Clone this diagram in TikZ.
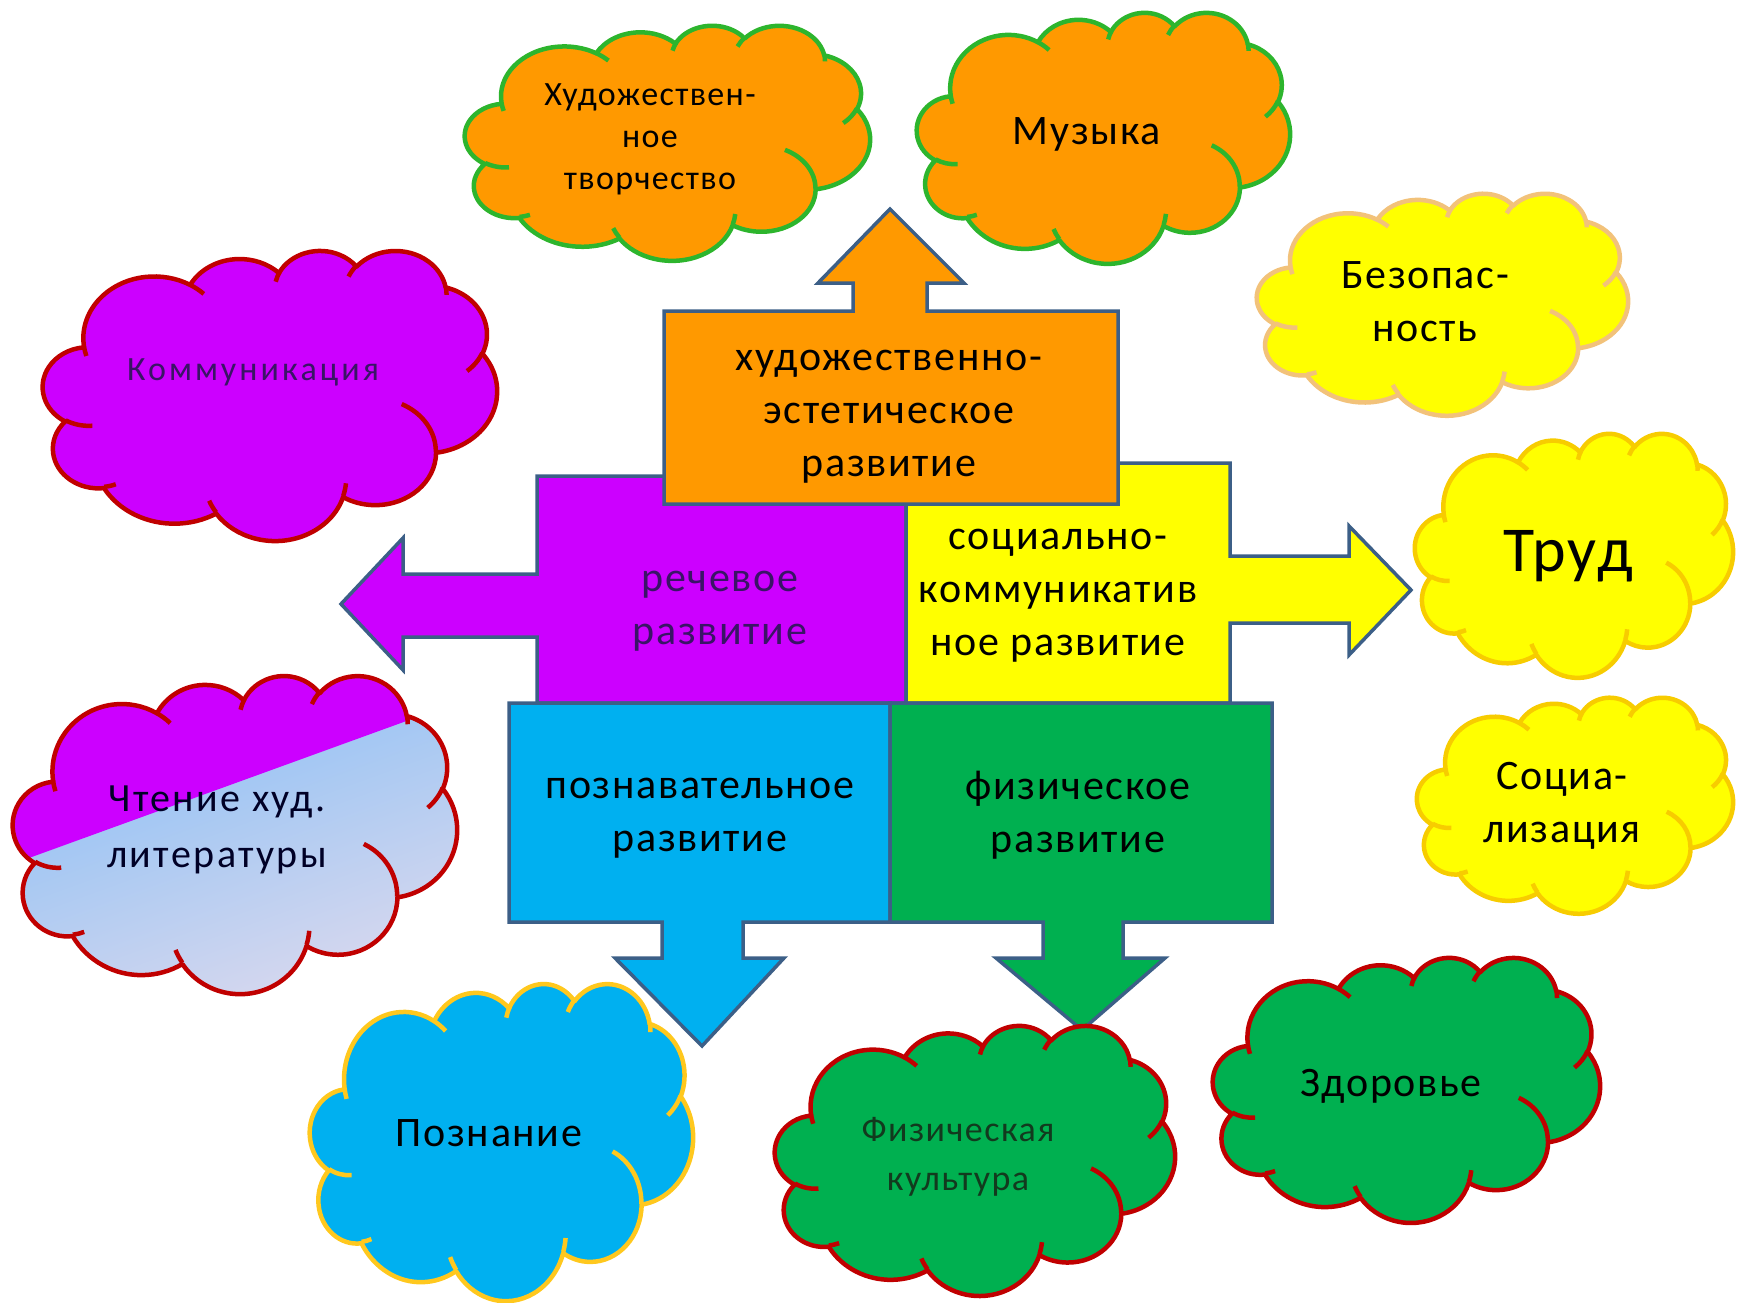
\documentclass[tikz,border=0pt]{standalone}
\usepackage{fontspec}
\setmainfont{Carlito}
\newfontfamily\fsA{Carlito}[LetterSpace=4]
\newfontfamily\fsB{Carlito}[LetterSpace=6]
\newfontfamily\fsC{Carlito}[LetterSpace=9]
\usetikzlibrary{calc}
\definecolor{orng}{HTML}{FF9900}
\definecolor{purp}{HTML}{CC00FF}
\definecolor{yel}{HTML}{FFFF00}
\definecolor{blu}{HTML}{00B0F0}
\definecolor{grn}{HTML}{00B050}
\definecolor{edgec}{HTML}{3C5F87}
\definecolor{cgreen}{HTML}{2DB52D}
\definecolor{cred}{HTML}{C00000}
\definecolor{ctan}{HTML}{F2C27A}
\definecolor{cgold}{HTML}{F7CC00}
\definecolor{cyo}{HTML}{FFC81E}
\definecolor{ltblue}{HTML}{86BEF6}
\definecolor{lav}{HTML}{D8D8EE}
\definecolor{dpurp}{HTML}{3A1466}
\definecolor{dgreen}{HTML}{123A1E}
% one arc of an OOXML-style cloud: x radius, y radius, start angle, sweep (visual angles)
\newcommand\ooarc[4]{arc[x radius=#1, y radius=#2, start angle={atan2(#1*sin(#3),#2*cos(#3))}, delta angle={mod(atan2(#1*sin(#3+#4),#2*cos(#3+#4))-atan2(#1*sin(#3),#2*cos(#3))+720,360)}]}
\newcommand\oocloud{(39.00,143.70)
 \ooarc{67.53}{91.90}{-190.487}{123.780}
 \ooarc{53.33}{72.67}{-144.102}{89.945}
 \ooarc{43.65}{59.45}{-145.808}{99.723}
 \ooarc{48.57}{65.95}{-130.986}{117.242}
 \ooarc{53.33}{72.73}{-78.709}{109.027}
 \ooarc{67.75}{92.20}{-46.267}{130.269}
 \ooarc{57.85}{78.67}{0.625}{114.033}
 \ooarc{67.52}{92.15}{22.452}{115.173}
 \ooarc{77.20}{105.43}{66.243}{75.711}
 \ooarc{43.60}{59.18}{-274.942}{146.736}
 \ooarc{43.45}{59.45}{-246.829}{152.519}
 -- cycle}
\newcommand\oocloudinner{(46.93,261.77) \ooarc{43.45}{59.45}{86.742}{26.430}
 (69.28,348.99) \ooarc{43.60}{59.18}{73.611}{11.448}
 (164.78,390.90) \ooarc{67.52}{92.15}{137.624}{14.081}
 (288.27,347.51) \ooarc{67.52}{92.15}{6.453}{15.998}
 (341.29,229.54) \ooarc{57.85}{78.67}{-70.292}{70.917}
 (417.98,153.54) \ooarc{53.33}{72.73}{30.318}{27.752}
 (383.24,54.26) \ooarc{48.57}{65.95}{-13.744}{14.859}
 (290.78,39.52) \ooarc{48.57}{65.95}{-149.182}{18.195}
 (221.41,47.20) \ooarc{43.65}{59.45}{-163.494}{17.686}
 (140.00,51.92) \ooarc{67.53}{91.90}{-66.707}{12.319}
 (41.27,157.89) \ooarc{67.53}{91.90}{157.654}{11.858}}
\tikzset{
  blockshape/.style={draw=edgec, line width=3.5pt, line join=miter},
  cloudline/.style={line width=4.5pt, line join=round},
  txt/.style={align=center, inner sep=0pt, font=\fsA\fontsize{42}{53}\selectfont},
  ctxt/.style 2 args={align=center, inner sep=0pt, font=\fsA\fontsize{#1}{#2}\selectfont},
}
% cloud with top-left corner (#1,#2), width #3, height #4, fill #5, outline #6
\newcommand\drawcloud[6]{%
  \begin{scope}[shift={(#1,#2)}, xscale=#3/432, yscale=#4/432]
    \draw[cloudline, draw=#6, fill=#5] \oocloud;
    \draw[cloudline, draw=#6] \oocloudinner;
  \end{scope}}
\begin{document}
\begin{tikzpicture}[x=1pt,y=-1pt]
\useasboundingbox (0,0) rectangle (1742,1303);
% central blocks with arrows
\draw[blockshape, fill=purp] (537,476) -- (906,476) -- (906,703) -- (537,703) -- (537,637) -- (403,637) -- (403,670) -- (341,604) -- (403,538) -- (403,574) -- (537,574) -- cycle;
\draw[blockshape, fill=yel] (906,463) -- (1230,463) -- (1230,556) -- (1349,556) -- (1349,526) -- (1411,590) -- (1349,655) -- (1349,623) -- (1230,623) -- (1230,703) -- (906,703) -- cycle;
\draw[blockshape, fill=blu] (509,703) -- (890,703) -- (890,922) -- (743,922) -- (743,958) -- (784,958) -- (702,1046) -- (615,958) -- (662,958) -- (662,922) -- (509,922) -- cycle;
\draw[blockshape, fill=grn] (890,703) -- (1272,703) -- (1272,922) -- (1123,922) -- (1123,958) -- (1165,958) -- (1082,1030) -- (996,958) -- (1043,958) -- (1043,922) -- (890,922) -- cycle;
\draw[blockshape, fill=orng] (664,504) -- (664,311) -- (853,311) -- (853,283) -- (818,283) -- (890,209) -- (964,283) -- (927,283) -- (927,311) -- (1118,311) -- (1118,504) -- cycle;
\node[txt] (t-aes) at (889,417) {художественно-\\эстетическое\\развитие};
\node[txt, text=dpurp] (t-speech) at (720,611) {речевое\\развитие};
\node[txt] (t-soc) at (1058,596) {социально-\\коммуникатив\\ное развитие};
\node[txt] (t-cog) at (700,818) {познавательное\\развитие};
\node[txt] (t-phys) at (1078,815) {физическое\\развитие};
% clouds
\drawcloud{465}{25}{405}{235}{orng}{cgreen}
\node[ctxt={34}{42}] (t-art) at (650,139) {Художествен-\\ное\\творчество};
\drawcloud{917}{12}{373}{251}{orng}{cgreen}
\node[ctxt={42}{53}] (t-music) at (1087,134) {Музыка};
\drawcloud{1257}{193}{371}{222}{yel}{ctan}
\node[ctxt={42}{53}] (t-safe) at (1425,302) {Безопас-\\ность};
\drawcloud{43}{250}{454}{290}{purp}{cred}
\node[ctxt={34}{40}, font=\fsC\fontsize{34}{40}\selectfont, text=dpurp] (t-comm) at (253,372) {Коммуникация};
\drawcloud{1415}{433}{318}{244}{yel}{cgold}
\node[ctxt={64}{70}] (t-work) at (1568,556) {Труд};
\drawcloud{1417}{697}{316}{216}{yel}{cgold}
\node[ctxt={42}{53}] (t-soc2) at (1562,806) {Социа-\\лизация};
% reading cloud with two-part fill
\begin{scope}[shift={(13,675)}, xscale=444/432, yscale=318/432]
  \begin{scope}
    \clip \oocloud;
    \shade[top color=ltblue, bottom color=lav, shading angle=20] (-5,-5) rectangle (437,437);
    \fill[purp] (-5,-5) -- (-5,259) -- (437,35) -- (437,-5) -- cycle;
  \end{scope}
  \draw[cloudline, draw=cred] \oocloud;
  \draw[cloudline, draw=cred] \oocloudinner;
\end{scope}
\node[ctxt={40}{56}, font=\fsB\fontsize{40}{56}\selectfont, text=black!85!blue] (t-read) at (217,830) {Чтение худ.\\литературы};
\drawcloud{310}{983}{383}{317}{blu}{cyo}
\node[ctxt={42}{53}] (t-know) at (489,1133) {Познание};
\drawcloud{775}{1025}{400}{270}{grn}{cred}
\node[ctxt={36}{49}, font=\fsA\fontsize{36}{49}\selectfont, text=dgreen] (t-phys2) at (958,1157) {Физическая\\культура};
\drawcloud{1213}{957}{387}{265}{grn}{cred}
\node[ctxt={42}{53}] (t-health) at (1391,1086) {Здоровье};
\end{tikzpicture}
\end{document}
